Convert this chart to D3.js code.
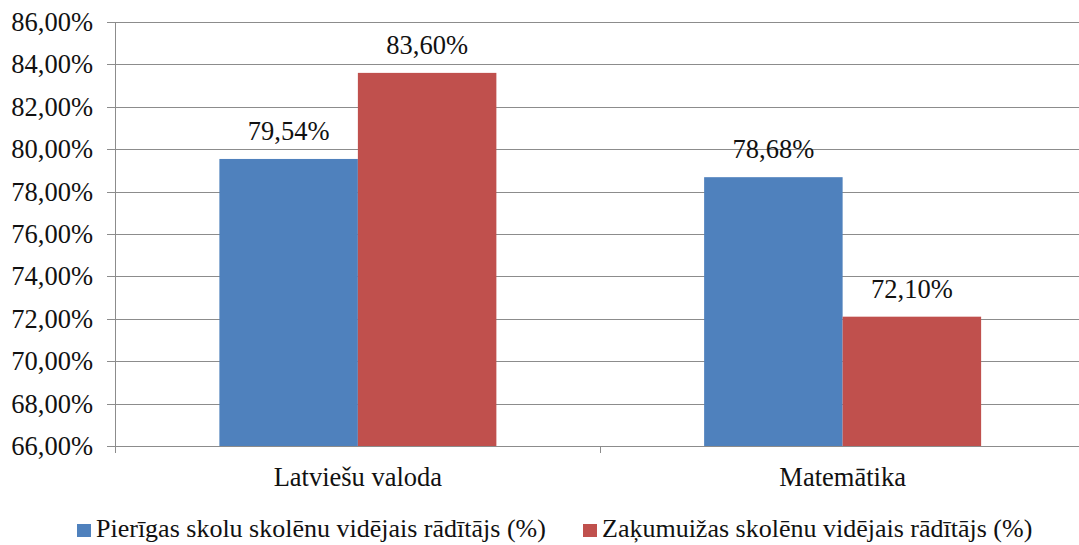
<!DOCTYPE html>
<html><head><meta charset="utf-8">
<script src="https://cdn.jsdelivr.net/npm/d3@7"></script>
<style>body{margin:0;background:#fff}</style>
</head><body><svg id="c" width="1079" height="545"></svg>
<script>
const categories = ["Latviešu valoda", "Matemātika"];
const seriesNames = ["Pierīgas skolu skolēnu vidējais rādītājs (%)", "Zaķumuižas skolēnu vidējais rādītājs (%)"];
const pierigas = [79.54, 78.68];
const zakumuizas = [83.60, 72.10];
const yTicks = [66, 68, 70, 72, 74, 76, 78, 80, 82, 84, 86];
const colors = ["#4F81BD", "#C0504D"];

const svg = d3.select("#c");
const K = 26.5 / 24;
const KL = 26 / 24;
const L = 115.5, R = 1085, T = 22, B = 446;
const y = d3.scaleLinear().domain([66, 86]).range([B, T]);
const x = d3.scaleBand().domain(categories).range([L, R]).paddingInner(0).paddingOuter(0);
const xs = d3.scaleBand().domain([0, 1]).range([0, x.bandwidth()]).paddingOuter(0.75).paddingInner(0);
const fmt = v => v.toFixed(2).replace(".", ",") + "%";

function label(parent, px, py, txt, anchor, k) {
  parent.append("text")
    .attr("transform", `translate(${px},${py}) scale(${k || K})`)
    .attr("x", 0).attr("y", 0)
    .attr("text-anchor", anchor || "start")
    .attr("font-size", 24)
    .style("font-family", "'Liberation Serif'")
    .attr("fill", "#111")
    .text(txt);
}

// gridlines
svg.append("g").selectAll("line").data(yTicks).join("line")
  .attr("x1", 107).attr("x2", R).attr("y1", d => Math.round(y(d)) + 0.5).attr("y2", d => Math.round(y(d)) + 0.5)
  .attr("stroke", "#8c8c8c").attr("stroke-width", 1);

// y labels
const gy = svg.append("g");
yTicks.forEach(d => label(gy, 93, y(d) + 9, fmt(d), "end"));

// bars
const series = [pierigas, zakumuizas];
series.forEach((vals, si) => {
  const g = svg.append("g");
  g.selectAll("rect").data(categories).join("rect")
    .attr("x", c => x(c) + xs(si)).attr("width", xs.bandwidth())
    .attr("y", (c, i) => y(vals[i])).attr("height", (c, i) => B - y(vals[i]))
    .attr("fill", colors[si]);
  categories.forEach((c, i) => label(g, x(c) + xs(si) + xs.bandwidth() / 2, y(vals[i]) - 19, fmt(vals[i]), "middle"));
});

// axes lines
svg.append("line").attr("x1", L).attr("x2", L).attr("y1", T).attr("y2", 453).attr("stroke", "#8c8c8c");
svg.append("line").attr("x1", 107).attr("x2", R).attr("y1", B + 0.5).attr("y2", B + 0.5).attr("stroke", "#8c8c8c");
svg.append("g").selectAll("line").data(categories.slice(1)).join("line")
  .attr("x1", c => Math.round(x(c)) + 0.5).attr("x2", c => Math.round(x(c)) + 0.5).attr("y1", B).attr("y2", 453)
  .attr("stroke", "#8c8c8c");

// category labels
const gc = svg.append("g");
categories.forEach(c => label(gc, x(c) + x.bandwidth() / 2, 486, c, "middle"));

// legend
const legX = [77, 583];
const gl = svg.append("g");
seriesNames.forEach((n, i) => {
  gl.append("rect").attr("x", legX[i]).attr("y", 524).attr("width", 14).attr("height", 13).attr("fill", colors[i]);
  label(gl, legX[i] + 19, 537, n, "start", KL);
});
</script></body></html>
